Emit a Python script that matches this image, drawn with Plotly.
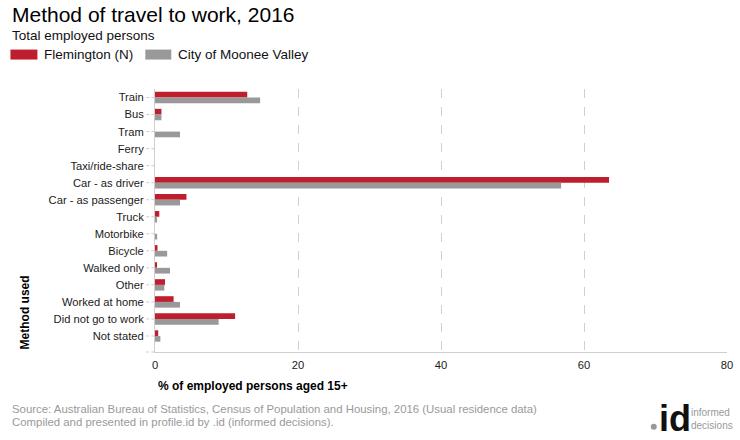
import plotly.graph_objects as go

categories = ["Train", "Bus", "Tram", "Ferry", "Taxi/ride-share", "Car - as driver",
              "Car - as passenger", "Truck", "Motorbike", "Bicycle", "Walked only",
              "Other", "Worked at home", "Did not go to work", "Not stated"]
flemington = [12.9, 0.9, 0.0, 0.0, 0.0, 63.5, 4.4, 0.6, 0.0, 0.35, 0.2, 1.4, 2.6, 11.2, 0.45]
moonee_valley = [14.7, 0.9, 3.5, 0.0, 0.0, 56.8, 3.5, 0.2, 0.3, 1.7, 2.1, 1.3, 3.5, 8.9, 0.75]
series_names = ["Flemington (N)", "City of Moonee Valley"]
series_colors = ["#BE1E2D", "#999999"]
x_ticks = [0, 20, 40, 60, 80]

FONT = "Liberation Sans, Arial, sans-serif"

fig = go.Figure()
for name, vals, col in zip(series_names, [flemington, moonee_valley], series_colors):
    fig.add_trace(go.Bar(y=categories, x=vals, name=name, orientation="h",
                         marker=dict(color=col, line=dict(width=0)), showlegend=False))

W, H = 740, 440
ml, mr, mt, mb = 154.7, 12.7, 88.5, 88

fig.update_layout(
    width=W, height=H,
    margin=dict(l=ml, r=mr, t=mt, b=mb, autoexpand=False),
    paper_bgcolor="white", plot_bgcolor="white",
    barmode="group", bargap=0.33, bargroupgap=0,
    font=dict(family=FONT, size=11, color="#1a1a1a"),
    xaxis=dict(range=[0, 80], tickvals=x_ticks, showgrid=True, gridcolor="#d0d0d0",
               griddash="dash", gridwidth=1, zeroline=False, showline=True,
               linecolor="#cfcfcf", linewidth=1, ticks="", ticklabelstandoff=3,
               tickfont=dict(size=11.2, color="#1a1a1a")),
    yaxis=dict(type="category", range=[14.94, -0.5], showgrid=False, zeroline=False,
               showline=True, linecolor="#cfcfcf", linewidth=1, ticks="outside",
               ticklen=8, tickcolor="rgba(0,0,0,0)", tickwidth=1,
               tickfont=dict(size=11.2, color="#1a1a1a")),
)

annotations = [
    dict(text="Method of travel to work, 2016", x=10, y=14, showarrow=False,
         font=dict(size=21, color="#000"), xanchor="left", yanchor="middle"),
    dict(text="Total employed persons", x=10, y=35, showarrow=False,
         font=dict(size=13.5, color="#111"), xanchor="left", yanchor="middle"),
    dict(text=series_names[0], x=42, y=54, showarrow=False,
         font=dict(size=13.5, color="#111"), xanchor="left", yanchor="middle"),
    dict(text=series_names[1], x=176, y=54, showarrow=False,
         font=dict(size=13.5, color="#111"), xanchor="left", yanchor="middle"),
    dict(text="<b>% of employed persons aged 15+</b>", x=156, y=386, showarrow=False,
         font=dict(size=12, color="#000"), xanchor="left", yanchor="middle"),
    dict(text="<b>Method used</b>", x=25, y=351, showarrow=False, textangle=-90,
         font=dict(size=12, color="#000"), xanchor="center", yanchor="bottom"),
    dict(text="Source: Australian Bureau of Statistics, Census of Population and Housing, 2016 (Usual residence data)",
         x=10, y=409, showarrow=False, font=dict(size=11.4, color="#999"), xanchor="left", yanchor="middle"),
    dict(text="Compiled and presented in profile.id by .id (informed decisions).",
         x=10, y=422, showarrow=False, font=dict(size=11.4, color="#999"), xanchor="left", yanchor="middle"),
    dict(text="<b>id</b>", x=657, y=419, showarrow=False, font=dict(size=36, color="#111"),
         xanchor="left", yanchor="middle"),
    dict(text="informed<br>decisions", x=689, y=419, showarrow=False, align="left",
         font=dict(size=10, color="#999"), xanchor="left", yanchor="middle"),
]
pw, ph = W - ml - mr, H - mt - mb
for a in annotations:
    a["xref"] = "paper"; a["yref"] = "paper"
    a["x"] = (a["x"] - ml) / pw
    a["y"] = (H - mb - a["y"]) / ph
fig.update_layout(annotations=annotations)

def rect(x0, y0, x1, y1, color, circle=False):
    return dict(type="circle" if circle else "rect", xref="paper", yref="paper",
                x0=(x0 - ml) / pw, x1=(x1 - ml) / pw,
                y0=(H - mb - y1) / ph, y1=(H - mb - y0) / ph,
                fillcolor=color, line=dict(width=0), layer="above")

shapes = [
    rect(10, 49, 37, 59, series_colors[0]),
    rect(145, 49, 171, 59, series_colors[1]),
    rect(651, 424, 657, 430, "#999", circle=True),
]
# dashed tick marks on the category axis
tick_x0 = (146 - ml) / pw
for i in range(len(categories)):
    shapes.append(dict(type="line", xref="paper", yref="y", x0=tick_x0, x1=0,
                       y0=i, y1=i, line=dict(color="#cccccc", width=1, dash="3px,2px")))
shapes.append(dict(type="line", xref="paper", yref="paper", x0=tick_x0, x1=0,
                   y0=0, y1=0, line=dict(color="#cccccc", width=1, dash="3px,2px")))
fig.update_layout(shapes=shapes)

fig.write_html("out.html", config={"displayModeBar": False},
               post_script="document.body.style.margin='0';document.body.style.overflow='hidden';")
